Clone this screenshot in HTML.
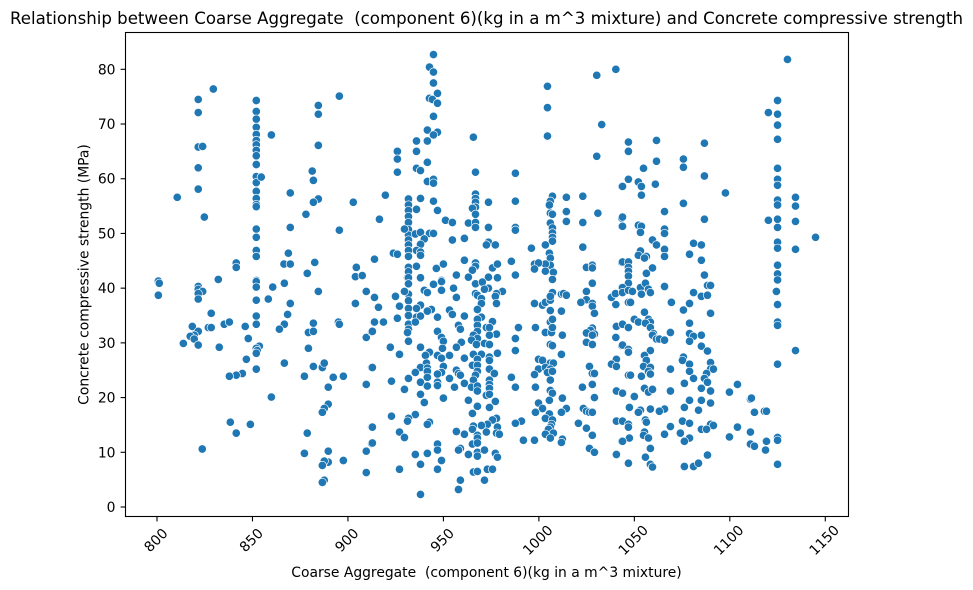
<!DOCTYPE html>
<html lang="en">
<head>
<meta charset="utf-8">
<title>Coarse Aggregate vs Concrete compressive strength</title>
<style>
html,body{margin:0;padding:0;background:#fff;}
svg{display:block;}
text{font-family:"DejaVu Sans","Liberation Sans",sans-serif;fill:#000;}
</style>
</head>
<body>
<svg id="chart" width="973" height="590" viewBox="0 0 973 590" xmlns="http://www.w3.org/2000/svg">
<rect x="0" y="0" width="973" height="590" fill="#fff"/>
<text x="486.5" y="24" font-size="16.67" text-anchor="middle" textLength="953" lengthAdjust="spacingAndGlyphs" xml:space="preserve">Relationship between Coarse Aggregate  (component 6)(kg in a m^3 mixture) and Concrete compressive strength</text>
<g id="marks"></g>
<rect x="125.5" y="32.5" width="723" height="484" fill="none" stroke="#000" stroke-width="1.1"/>
<g id="xticks"></g>
<g id="yticks"></g>
<text x="486.5" y="577" font-size="13.89" text-anchor="middle" xml:space="preserve">Coarse Aggregate  (component 6)(kg in a m^3 mixture)</text>
<text x="0" y="0" font-size="13.89" text-anchor="middle" transform="translate(88.5 274.5) rotate(-90)">Concrete compressive strength (MPa)</text>
</svg>
<script>
const xTickValues = [800, 850, 900, 950, 1000, 1050, 1100, 1150];
const yTickValues = [0, 10, 20, 30, 40, 50, 60, 70, 80];

const upperLeftAggregate = [821.6,821.6,821.6,821.6,821.6,823.9,829.5,810.6,824.8,
852,852,852,852,852,852,852,852,852,852,852,852,852,852,852,852,852,852,852,852,852,
854.6,859.9,884.5,884.5,884.5,895.5,881.3,881.9,884.5,881.9,869.8,878,869.8,902.8,895.5,868.8,866.5,869.8,882.6,841.5,841.5,878.7,904.4,903.9,907.5];
const upperLeftStrength = [74.5,72.1,65.8,62,58.1,65.9,76.4,56.6,53,
74.3,72.3,70.9,69.4,68.1,67,66.2,65.2,64.2,62.6,60.4,59.3,57.7,56.4,55.3,54.9,50.8,49.3,46.9,45.8,41.4,
60.3,68,73.4,71.8,66.1,75.1,61.4,59.7,56.3,55.7,57.4,53.5,51.1,55.7,50.6,46.4,44.4,44.4,44.7,44.6,43.8,42.7,43.8,42.1,42.3];

const lowerLeftAggregate = [800.7,801.2,800.7,832.1,821.6,821.6,823.9,821.6,821.6,852,852,852,852,852,
860.6,866.7,858.3,884.5,869.8,868.4,866.7,864.1,909.6,903.9,
881.9,879.3,881.9,879.3,895,895.5,909.6,912.4,
828.4,818.5,821.6,826.9,828.4,835.2,837.9,819.5,817.4,819.5,813.8,821.6,832.6,
846.2,847.8,853.6,852,852.5,852,846.8,852,844.7,841.5,837.9,866.7,881.9,886.6,887.6,877.2,892.3,897.6,889.7,909.6,912.4,
859.9,889.7,887.6,886.6,838.4,848.9,841.5,878.7,912.4,912.4,
823.7,877.2,889.7,909.6,889.7,887.6,886.6,897.6,909.6,887.6,886.6];
const lowerLeftStrength = [41.3,40.9,38.7,41.6,40.3,39.8,39.4,39,38,41.2,40.2,37.8,34.9,33.4,
40.2,40.9,38,39.4,37.2,35.2,33.4,32.5,39.4,37.2,
33.6,31.9,32.1,29,33.8,33.4,31,32,
35.4,33,32.1,32.8,32.8,33.4,33.8,31.4,31.2,30.7,29.9,29.6,29.2,
33,30.8,29.4,29,28.6,28.1,27,25.2,24.4,24.1,23.9,26.3,25.7,25.5,26.3,23.9,23.7,23.9,21.9,22.4,25.5,
20.1,18.8,18,17.3,15.5,15.1,13.5,13.5,14.6,11.6,
10.6,9.8,10.2,10.2,8.2,8.4,7.6,8.5,6.3,4.9,4.5];

const upperMidAggregate = [944.8,942.7,944.8,944.8,946.9,942.7,944.2,946.9,944.8,941.6,946.9,944.8,941.6,935.9,935.9,925.9,925.9,925.9,941.6,935.9,938,941.6,944.8,944.8,
965.7,966.8,987.7,1004.5,1004.5,1004.5,1030.3,1040.3,1032.9,1030.3,
919.6,931.7,931.7,931.7,931.7,931.7,931.7,931.7,931.7,931.7,931.7,931.7,931.7,931.7,931.2,
938,935.9,944.8,946.9,916.5,951.1,954.7,963.1,966.8,966.8,966.8,966.8,965.2,966.8,966.8,966.8,973.6,973.6,987.7,987.7,987.7,
1007.1,1006,1005.5,1006,1007.1,1006,1007.1,1007.1,1007.1,1007.1,1014.4,1014.4,1014.4,1023,1023,1030.9,1023,1043.4,1043.4,1043.4,1043.4,
929.6,935.3,938,942.7,944.8,940,938,935.9,938,938,923.8,925.9,913.9,954.7,961,973.6,972.5,977.2,996.1,1003.4,1005.5,1006,1006,1003.4,997.7,999.8,997.7,1003.4,1007.6,1007.1,
935.9,946.3,950,961,966.8,966.8,965.2,975.7,978.3,985.6,956.8,963.1,938,949,973.6,978.3,987.7,1024.9,1028,1028];
const upperMidStrength = [82.7,80.4,79.5,77.5,75.6,74.7,74.5,73.8,71.4,68.9,68.5,68,66.9,66.9,65,65,63.6,61.2,63,61.9,61.5,59.5,59.9,59.2,
67.6,61.2,61,76.9,73,67.8,78.9,80,69.9,64.1,
57,56.3,55.2,54.2,53.1,52,50.7,49.7,48.8,47.9,46.9,45.8,43.8,42.9,41.9,
56.4,54.4,55.9,54.2,52.6,52.4,52,51.9,57.2,56.4,55.7,54.8,54.6,53.5,52,51.1,55.7,51.1,55.9,51.1,50.6,
56.8,55.9,55.2,53.7,53.5,51.9,51,50.1,49.3,48.6,56.6,54,52.2,56.8,52,53.7,47.5,58.6,52.8,51.3,44.7,
50.8,49.9,50.2,50,50,49,48,46.9,46.6,46,46.4,46.2,45.3,48.8,49.1,48.4,47.9,47.9,47.3,47.9,46.4,45.5,44.2,44.4,44.4,44.6,43.5,43.1,42.9,41.6,
44,43.6,44.4,45.1,44.6,44,43.3,43.7,44.4,44.9,42.4,42,41.9,41.4,42,41.9,42.4,43.8,44.2,43.7];

const lowerMidAggregate = [931.7,931.7,931.7,931.7,931.7,931.7,931.7,931.7,931.7,931.2,931.7,
944.8,949,966.8,970.4,973.6,971.5,955.3,940,941.6,949,929.6,980.9,966.8,967.8,977.8,977.2,956.8,924.9,913.9,969.9,977.8,969.9,
916,927,938,935.9,943.7,941.6,953.2,954.7,967.8,961,969.9,925.9,935.9,938,946.9,913.9,918.6,935.3,967.8,975.7,957.9,967.8,972.5,974.1,958.9,967.8,912.8,946.9,
977.8,974.1,965.7,949,967.8,964.7,950,959.4,967.3,971.5,974.1,949.5,956.8,938,922.2,927,942.7,940.6,946.9,949,953.2,961,965.7,969.9,974.1,978.3,967.8,974.1,
941.1,950,965.2,967.8,912.8,938,941.6,974.1,967.8,949,956.8,935.3,941.6,946.9,957.9,958.9,976.7,966.8,931.7,941.6,953.2,965.7,922.8,938,946.9,941.6,946.9,961,955.8,964.7,967.8,974.1,974.1,974.1,967.8,929.6,972.5,974.1,938,950,963.1,977.2,940,967.8,974.1,965.2,
935.3,922.8,931.7,931.2,942.7,941.6,977.8,975.7,973,969.9,965.7,965.2,978.3,912.8,927,929.6,956.8,961,972.5,977.8,979.3,967.8,967.8,912.8,946.9,946.9,965.2,967.8,958.9,957.9,935.3,941.6,963.1,967.8,967.8,971.5,977.2,978.3,949,938,927,946.9,965.7,967.8,973,975.7,958.9,971.5,957.9,938];
const lowerMidStrength = [43,41.9,40.8,38.9,37.7,36.3,35,33.4,32.5,31.9,30.3,
40.7,41.2,40.8,41.1,40,39.8,40,39.6,39.2,39.6,39.4,39.4,39,38.7,39,38.5,38.3,38.5,38.3,38.1,37.2,37.2,
36.5,36.7,36.9,36.3,36.1,35.8,36,35.2,36.1,34.9,34.7,34.5,34.7,34.9,34.7,33.8,33.8,33.8,34.3,33.9,33.2,33.2,32.8,32.8,32.5,32.1,32.1,32.1,
31.6,31.4,31.4,31,30.8,30.5,30.3,30.1,29.7,29.9,29.7,29,29.2,29.2,29.2,27.9,28.3,27.7,27.7,27.2,27.7,27.2,27.9,27.9,27.4,28.1,27,26.8,
26.3,25.7,25.9,25.9,25.5,25.5,25.4,25.2,24.8,24.6,25,24.6,24.8,24.3,24.4,24.1,24.4,24.1,23.5,23.7,23.5,23.2,23,22.8,22.8,22.1,22.2,22.6,21.9,21.9,22.1,23.2,22.4,21.7,21.2,21.5,20.4,20.6,20.6,19.9,19.5,19.3,19.1,18.4,18.2,17.1,
16.9,16.6,16.2,15.7,15.5,15.1,16.2,15.9,15.1,14.9,14.8,14.2,14.6,14.6,13.7,12.7,13.8,13.3,13.7,13.5,13.3,13.1,12.6,11.7,11.5,10.4,11.5,11.7,10.7,10.4,9.6,9.8,9.6,10,9.3,10.4,9.8,9.1,8.5,7.8,6.9,6.9,6.4,6.5,6.9,6.9,4.9,4.9,3.2,2.3];

const lowerCenterAggregate = [997.7,1001.9,1003.4,1006,1007.1,1006,1006,1011.8,1011.8,1012.9,1014.4,1006,1007.1,1003.4,1006.6,1007.1,1012.3,998.2,989.3,987.7,987.7,1006,1007.1,1011.8,999.8,1001.9,1006,1007.6,999.8,1003.4,1006,1004.5,1007.1,997.7,985.6,1006,987.7,998.2,1006,1007.1,1012.3,1005.5,999.8,1001.9,1014.4,1011.8,998.2,1005.5,1003.4,1007.1,1006.6,1006,1005,990.9,987.7,1007.6,1003.4,1006,991.9,997.7,1012.3,1011.8,
1024.9,1024.9,1022,1028,1028,1028,1029.1,1028,1027,1024.9,1029.1,1028,1024.9,1028,1026.5,1028,1029.1,1028,1022.8,1029.1,1023.3,1024.9,1026.5,1028,1020.7,1024.9,1028,1026.5,1029.1,
1038,1040.1,1043.4,1040.3,1040.6,1040.3,1040.6,1038,1040.6,1040.6,1040.6,1040.6,1043.4,1043.4];
const lowerCenterStrength = [37.2,36.9,37.4,37.8,39.2,38.5,35.9,35.8,38.9,39,38.7,33.8,34.3,31.9,31.9,32.8,31.4,32.8,32.8,30.8,28.6,29.7,29.5,27.9,27,26.8,26.3,26.3,25.2,25.5,25.2,24.6,24.8,24.2,23.7,23.2,21.9,21.9,21.3,20.8,19.9,19.5,19,18,18,17.3,17.3,17,16.2,15.9,15.1,14.6,14.2,15.7,15.3,13.5,13.3,12.6,12.2,12.2,12.4,11.8,
39.4,37.9,37.4,40.9,37.2,36.7,35.4,32.7,32.3,31.8,31.6,31.4,30.1,29.7,25.7,24.4,24.4,22.4,21.9,20,18,17.5,17.3,17.3,15.3,14.4,13.1,10.7,10,
38.3,39,40.1,37,33,31,27,26.1,25.7,21.2,15.7,9.6,29.5,12];

const upperRightAggregate = [1130.2,1125,1120.2,1125,1125,1125,1125,1125,1125,1125,1125,1120.2,1125,1125,1125,1125,1125,1125,1125,
1134.4,1134.4,1134.4,1134.4,1144.9,1097.7,1086.7,1086.7,1086.7,1086.7,1075.7,1075.7,1075.7,
1061.6,1061.6,1061,1054.8,1046.9,1046.9,1046.9,1043.8,1052.1,1053.7,1053.7,1065.8,1043.8,1043.8,1052.1,1053.7,1053.2,1065.8,1065.8,1059.5,1061.6,1065.8,1065.8,1053.2,1052.1,1056.3,1055.3,1043.8,1046.9,1046.9,1046.9,1046.9,1056.3,1059.5,1081,1085.1,1078.9,1085.1];
const upperRightStrength = [81.8,74.3,72.1,71.8,69.8,67.2,61.9,59.9,58.8,56.1,55.2,52.4,52.6,51.1,48.4,47.3,44.2,42.6,41.5,
56.6,55,52.2,47.1,49.3,57.4,66.5,60.5,52.6,42.4,63.6,62.1,55.5,
67,63.2,59,61.9,66.7,65,59.9,58.6,59.4,58.6,57,54,53,51.3,51.5,51.3,50.2,50.8,50,48.8,47.9,47.1,45.8,46.8,46,45.8,45.5,44.8,44.8,43.8,43.1,42.2,42.7,43.7,48.2,47.9,46.2,45.1];

const lowerRightAggregate = [1046.9,1043.8,1043.8,1046.9,1049,1053.2,1055.8,1053.7,1057.4,1058.4,1065.8,
1081,1088.3,1089.9,1085.1,1088.3,1124.4,1125,1125,1125,1134.4,1125,
1078.9,1069.4,1075.7,1089.9,1046.9,1048,
1055.3,1050,1052.1,1057.4,1058.4,1055.8,1058.4,1043.8,1046.9,1060,1059.5,1068.9,1061.6,1063.1,1065.8,1078.9,1078.9,1081,1085.1,1078.9,1085.1,1088.3,
1043.8,1046.9,1046.9,1058.4,1055.3,1056.3,1054.8,1058.4,1057.4,1046.9,1048,1053.7,1058.4,1068.9,1075.7,1075.2,1078.9,1078.9,1081,1089.9,1089.9,1091.4,1087.8,1086.7,1088.3,1076.2,
1055.3,1057.4,1059.5,1068.9,1085.1,1089.9,1043.8,1050,1078.9,1085.1,1089.9,1076.2,1083.6,1099.8,1104,1110.8,1111.3,
1047.4,1053.2,1052.1,1058.4,1065.8,1063.1,1112.9,1118.1,1119.2,
1043.8,1046.9,1046.9,1055.8,1056.3,1068.9,1075.2,1078.9,1089.9,1091.4,1085.1,1087.8,1104,1110.8,
1055.3,1054.8,1057.4,1065.8,1074.1,1078.9,1076.2,1099.8,1047.4,1043.8,1119.2,1110.8,1112.9,1118.7,1125,1125,1058.4,1055.8,1088.3,1046.9,1058.4,1059.5,1076.2,1081,1083.6,1125];
const lowerRightStrength = [40.9,40.1,39.2,39.6,39.4,40.1,40.9,38.9,39.8,39.2,40.3,
39.2,40.5,40.5,38.5,38.7,39.4,37,33.8,33.2,28.6,26.1,
37.2,37.4,36,35.4,37.4,37.4,
35.6,34.3,33.8,34.3,33.8,33.6,32.8,33.4,32.8,31.7,31.4,31.9,30.7,30.7,30.5,33.6,31.7,31.2,31.4,30.3,29.4,28.5,
29.6,28.8,28.3,28.6,27.7,26.8,25.7,25.5,24.8,24.1,24.1,23.9,24.3,25.2,27.4,26.8,26.1,24.8,23.5,26.4,25.2,25.2,24.4,23.5,22.8,22.6,
21.7,21,21.5,21.2,21.7,21.2,20.8,20.2,19.5,19.5,19,18.2,17.7,21,22.4,19.7,19.9,
18.2,17.7,17.3,17.9,17.9,17.5,17.3,17.5,17.5,
15.7,15.1,14.6,15.9,15.5,14.7,15.7,15.3,15.1,14.9,14.2,14.2,14.6,13.7,
13.7,13.1,12.6,13.3,13.5,12.6,12,12.8,12.6,12,12,11.5,11.1,10.4,12.7,12.2,10.7,9.1,9.5,8,7.8,7.3,7.4,7.4,8,7.8];

const aggregateValues = [].concat(upperLeftAggregate, lowerLeftAggregate, upperMidAggregate, lowerMidAggregate, lowerCenterAggregate, upperRightAggregate, lowerRightAggregate);
const strengthValues = [].concat(upperLeftStrength, lowerLeftStrength, upperMidStrength, lowerMidStrength, lowerCenterStrength, upperRightStrength, lowerRightStrength);

const SVG_NS = 'http://www.w3.org/2000/svg';
function xScale(v) { return 157 + (v - 800) * 1.9094; }
function yScale(v) { return 507 - v * 5.471; }

const marks = document.getElementById('marks');
const pointCount = Math.min(aggregateValues.length, strengthValues.length);
for (let i = 0; i < pointCount; i++) {
  const c = document.createElementNS(SVG_NS, 'circle');
  c.setAttribute('cx', xScale(aggregateValues[i]).toFixed(2));
  c.setAttribute('cy', yScale(strengthValues[i]).toFixed(2));
  c.setAttribute('r', '4.17');
  c.setAttribute('fill', '#1f77b4');
  c.setAttribute('stroke', '#fff');
  c.setAttribute('stroke-width', '0.67');
  
  
  marks.appendChild(c);
}

const xTicks = document.getElementById('xticks');
xTickValues.forEach(function (v) {
  const px = xScale(v);
  const tick = document.createElementNS(SVG_NS, 'line');
  tick.setAttribute('x1', px);
  tick.setAttribute('x2', px);
  tick.setAttribute('y1', 516.5);
  tick.setAttribute('y2', 521.4);
  tick.setAttribute('stroke', '#000');
  tick.setAttribute('stroke-width', '1.1');
  
  
  xTicks.appendChild(tick);
  const label = document.createElementNS(SVG_NS, 'text');
  label.textContent = String(v);
  label.setAttribute('font-size', '13.89');
  label.setAttribute('text-anchor', 'middle');
  label.setAttribute('transform', 'translate(' + (px + 2.2) + ' 543.5) rotate(-45)');
  
  
  xTicks.appendChild(label);
});

const yTicks = document.getElementById('yticks');
yTickValues.forEach(function (v) {
  const py = yScale(v);
  const tick = document.createElementNS(SVG_NS, 'line');
  tick.setAttribute('x1', 120.6);
  tick.setAttribute('x2', 125.5);
  tick.setAttribute('y1', py);
  tick.setAttribute('y2', py);
  tick.setAttribute('stroke', '#000');
  tick.setAttribute('stroke-width', '1.1');
  
  
  yTicks.appendChild(tick);
  const label = document.createElementNS(SVG_NS, 'text');
  label.textContent = String(v);
  label.setAttribute('font-size', '13.89');
  label.setAttribute('text-anchor', 'end');
  label.setAttribute('x', 115.5);
  label.setAttribute('y', py + 5);
  
  
  yTicks.appendChild(label);
});
</script>
</body>
</html>
